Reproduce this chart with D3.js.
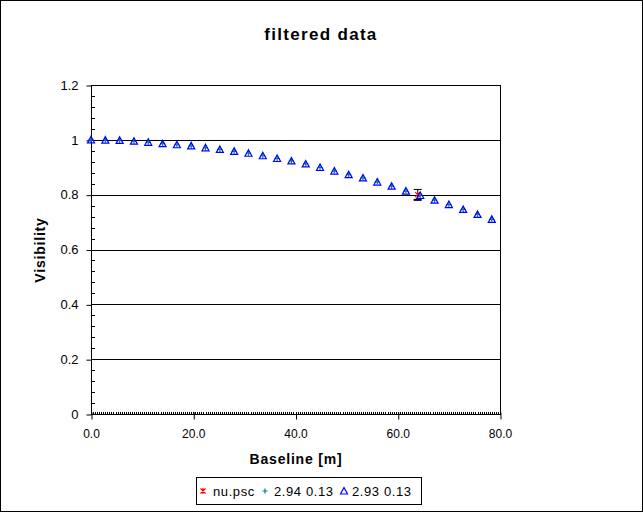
<!DOCTYPE html>
<html>
<head>
<meta charset="utf-8">
<script src="https://cdn.jsdelivr.net/npm/d3@7"></script>
<style>
  body { margin: 0; background: #fff; }
  svg text { font-family: "Liberation Sans", Arial, sans-serif; }
</style>
</head>
<body>
<div id="chart"></div>
<script>
// baseline [m] of the model points
const baseline = [0, 2.8, 5.6, 8.4, 11.2, 14.0, 16.8, 19.6, 22.4, 25.2, 28.0, 30.8, 33.6, 36.4,
  39.2, 42.0, 44.8, 47.6, 50.4, 53.2, 56.0, 58.8, 61.6, 64.4, 67.2, 70.0, 72.8, 75.6, 78.4];
// model "2.94 0.13"
const visPlus = [1.000, 0.999, 0.998, 0.995, 0.991, 0.986, 0.982, 0.978, 0.971, 0.965, 0.958,
  0.951, 0.942, 0.932, 0.923, 0.912, 0.899, 0.886, 0.873, 0.861, 0.846, 0.831, 0.813, 0.797,
  0.780, 0.764, 0.746, 0.728, 0.710];
// model "2.93 0.13"
const visTri = [1.000, 0.999, 0.998, 0.995, 0.991, 0.986, 0.982, 0.978, 0.971, 0.965, 0.958,
  0.951, 0.942, 0.932, 0.923, 0.912, 0.899, 0.886, 0.873, 0.861, 0.846, 0.831, 0.813, 0.797,
  0.780, 0.764, 0.746, 0.728, 0.710];
// measured point nu.psc
const obsBase = [63.9];
const obsVis = [0.800];
const obsErr = [0.019];

const xTicks = [0, 20, 40, 60, 80];
const yTicks = [0, 0.2, 0.4, 0.6, 0.8, 1, 1.2];
const legendLabels = ["nu.psc", "2.94 0.13", "2.93 0.13"];

const W = 643, H = 512;
const pLeft = 91, pRight = 500, pTop = 85, pBottom = 414;

const svg = d3.select("#chart").append("svg")
  .attr("width", W).attr("height", H);

svg.append("rect")
  .attr("x", 0.5).attr("y", 0.5).attr("width", W - 1).attr("height", H - 1)
  .attr("fill", "#fff").attr("stroke", "#000");

const x = d3.scaleLinear().domain([0, 80]).range([pLeft, pRight]);
const y = d3.scaleLinear().domain([0, 1.2]).range([pBottom, pTop]);

// title
svg.append("text")
  .attr("x", 321).attr("y", 40)
  .attr("text-anchor", "middle")
  .style("font-size", "17px").style("font-weight", "bold").style("letter-spacing", "1.3px")
  .text("filtered data");

// gridlines
svg.append("g").selectAll("line")
  .data(yTicks.filter(d => d > 0))
  .enter().append("line")
  .attr("x1", pLeft).attr("x2", pRight)
  .attr("y1", d => Math.round(y(d)) + 0.5).attr("y2", d => Math.round(y(d)) + 0.5)
  .attr("stroke", "#000");

// right border
svg.append("line")
  .attr("x1", pRight + 0.5).attr("x2", pRight + 0.5)
  .attr("y1", pTop).attr("y2", pBottom)
  .attr("stroke", "#000");

// y axis
const yAxis = svg.append("g")
  .attr("transform", `translate(${pLeft + 0.5},0)`)
  .call(d3.axisLeft(y).tickValues(yTicks).tickSize(5).tickPadding(8)
    .tickFormat(d => d === 1.2 ? "1.2" : d3.format("")(d)));
yAxis.select(".domain").remove();
yAxis.selectAll(".tick line").attr("transform", "translate(0,0.5)");
yAxis.append("line").attr("y1", pTop).attr("y2", pBottom + 1).attr("stroke", "#000");
yAxis.selectAll("text").style("font-size", "13px").attr("fill", "#000");

// y minor ticks
svg.append("g").selectAll("line")
  .data(d3.range(0, 30).map(i => i * 0.04).filter(v => Math.abs(v / 0.2 - Math.round(v / 0.2)) > 1e-6))
  .enter().append("line")
  .attr("x1", pLeft).attr("x2", pLeft + 4)
  .attr("y1", d => Math.round(y(d)) + 0.5).attr("y2", d => Math.round(y(d)) + 0.5)
  .attr("stroke", "#000");

// x axis
const xAxis = svg.append("g")
  .attr("transform", `translate(0,${pBottom + 0.5})`)
  .call(d3.axisBottom(x).tickValues(xTicks).tickSize(5).tickPadding(10).tickFormat(d3.format(".1f")));
xAxis.select(".domain").remove();
xAxis.append("line").attr("x1", pLeft).attr("x2", pRight + 1).attr("stroke", "#000");
xAxis.selectAll(".tick line").attr("y1", -2).attr("transform", "translate(0.5,0)");
xAxis.selectAll("text").style("font-size", "12px").attr("fill", "#000");

// x minor ticks
svg.append("g").selectAll("line")
  .data(d3.range(1, 200).map(i => i * 0.4))
  .enter().append("line")
  .attr("x1", d => Math.round(x(d)) + 0.5).attr("x2", d => Math.round(x(d)) + 0.5)
  .attr("y1", pBottom - 2).attr("y2", pBottom)
  .attr("stroke", "#000");

// axis titles
svg.append("text")
  .attr("x", 296).attr("y", 464)
  .attr("text-anchor", "middle")
  .style("font-size", "14px").style("font-weight", "bold").style("letter-spacing", "0.8px")
  .text("Baseline [m]");

svg.append("text")
  .attr("transform", "translate(45,250) rotate(-90)")
  .attr("text-anchor", "middle")
  .style("font-size", "14px").style("font-weight", "bold").style("letter-spacing", "0.8px")
  .text("Visibility");

// marker helpers
function triangle(g, cx, cy) {
  g.append("path")
    .attr("d", `M${cx - 3.5},${cy + 3} L${cx + 3.5},${cy + 3} L${cx},${cy - 3.5} Z`)
    .attr("fill", "none").attr("stroke", "#0000ff").attr("stroke-width", 1.2);
}
function plus(g, cx, cy) {
  g.append("path")
    .attr("d", `M${cx - 2.5},${cy} L${cx + 2.5},${cy} M${cx},${cy - 2.5} L${cx},${cy + 2.5}`)
    .attr("stroke", "#008080").attr("stroke-width", 1.2);
}
function star(g, cx, cy) {
  g.append("path")
    .attr("d", `M${cx - 2.5},${cy - 2.5} L${cx + 2.5},${cy + 2.5} M${cx + 2.5},${cy - 2.5} L${cx - 2.5},${cy + 2.5} M${cx},${cy - 3} L${cx},${cy + 3}`)
    .attr("stroke", "#ff0000").attr("stroke-width", 1.2);
}

// observed point with error bar
const obs = svg.append("g");
obsBase.forEach((b, i) => {
  const cx = x(b), y1 = y(obsVis[i] + obsErr[i]), y2 = y(obsVis[i] - obsErr[i]);
  obs.append("line").attr("x1", cx).attr("x2", cx).attr("y1", y1).attr("y2", y2).attr("stroke", "#000");
  obs.append("line").attr("x1", cx - 4).attr("x2", cx + 4).attr("y1", y1).attr("y2", y1).attr("stroke", "#000");
  obs.append("line").attr("x1", cx - 4).attr("x2", cx + 4).attr("y1", y2).attr("y2", y2).attr("stroke", "#000").attr("stroke-width", 2);
  star(obs, cx, y(obsVis[i]));
});

// model series
const pts = svg.append("g");
baseline.forEach((b, i) => plus(pts, x(b), y(visPlus[i])));
baseline.forEach((b, i) => triangle(pts, x(b), y(visTri[i])));

// legend
const lg = svg.append("g");
lg.append("rect").attr("x", 196.5).attr("y", 477.5).attr("width", 225).attr("height", 27)
  .attr("fill", "#fff").attr("stroke", "#000");
const legendItems = [
  { mk: star, mx: 203, tx: 213 },
  { mk: plus, mx: 265, tx: 274 },
  { mk: triangle, mx: 344, tx: 352 }
];
legendItems.forEach((it, i) => {
  it.mk(lg, it.mx, 491);
  lg.append("text").attr("x", it.tx).attr("y", 496)
    .style("font-size", "13px").style("letter-spacing", "0.6px")
    .text(legendLabels[i]);
});
</script>
</body>
</html>
